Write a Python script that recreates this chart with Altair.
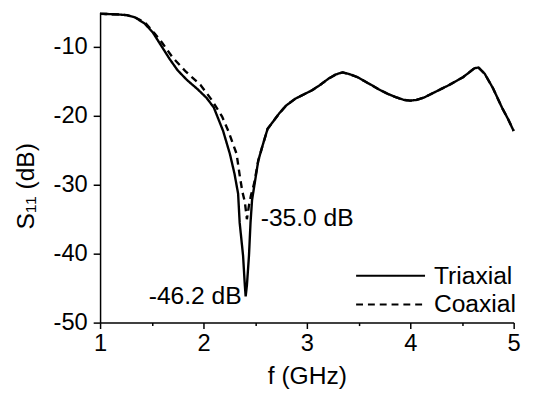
import altair as alt
import pandas as pd

# shared flat start (both cables identical)
f_head = [1.00, 1.10, 1.18, 1.26, 1.335]
v_head = [-5.2, -5.25, -5.3, -5.4, -5.7]

# Triaxial (solid) through the resonance
f_tri_mid = [1.43, 1.51, 1.59, 1.67, 1.75, 1.84, 1.94, 2.03, 2.10, 2.19, 2.255, 2.30,
             2.335, 2.35, 2.383, 2.40, 2.408, 2.42, 2.44, 2.455, 2.47, 2.49]
v_tri_mid = [-6.6, -7.9, -9.8, -11.7, -13.4, -14.8, -16.1, -17.4, -18.8, -22.2, -25.5, -28.4,
             -31.3, -35.5, -40.3, -44.6, -46.2, -44.6, -40.3, -35.5, -32.2, -30.3]

# Coaxial (dashed) through the resonance
f_coax_mid = [1.43, 1.46, 1.53, 1.60, 1.70, 1.83, 1.97, 2.08, 2.18, 2.24, 2.32, 2.35,
              2.376, 2.40, 2.42, 2.44, 2.46, 2.49]
v_coax_mid = [-6.4, -6.9, -8.1, -9.4, -11.5, -13.6, -15.5, -17.7, -20.1, -22.2, -25.5, -28.6,
              -31.0, -32.5, -35.0, -33.0, -31.5, -29.8]

# shared upper band (curves coincide)
f_tail = [2.53, 2.57, 2.62, 2.67, 2.73, 2.80, 2.89, 2.97, 3.05, 3.13, 3.21, 3.28, 3.345,
          3.42, 3.49, 3.56, 3.62, 3.70, 3.78, 3.86, 3.94, 4.00, 4.06, 4.14, 4.22, 4.30,
          4.38, 4.45, 4.51, 4.57, 4.62, 4.66, 4.72, 4.80, 4.89, 4.95, 5.00]
v_tail = [-26.5, -24.4, -21.9, -20.9, -19.7, -18.5, -17.5, -16.9, -16.3, -15.5, -14.6, -14.0, -13.7,
          -14.0, -14.4, -15.0, -15.5, -16.2, -16.8, -17.3, -17.7, -17.8, -17.7, -17.3, -16.7, -16.1,
          -15.5, -14.9, -14.4, -13.7, -13.1, -13.0, -13.9, -16.0, -18.9, -20.6, -22.2]

series_names = ["Triaxial", "Coaxial"]

ann_text = ["-46.2 dB", "-35.0 dB"]
ann_f = [2.408, 2.42]
ann_v = [-46.2, -35.0]

x_ticks = [1, 1.5, 2, 2.5, 3, 3.5, 4, 4.5, 5]
y_ticks = [-50, -45, -40, -35, -30, -25, -20, -15, -10]

f_tri = f_head + f_tri_mid + f_tail
v_tri = v_head + v_tri_mid + v_tail
f_coax = f_head + f_coax_mid + f_tail
v_coax = v_head + v_coax_mid + v_tail

df = pd.concat([
    pd.DataFrame({"f": f_tri, "v": v_tri, "series": series_names[0]}),
    pd.DataFrame({"f": f_coax, "v": v_coax, "series": series_names[1]}),
])
ann = pd.DataFrame({"f": ann_f, "v": ann_v, "label": ann_text})

FONT = "Liberation Sans"

xscale = alt.Scale(domain=[1, 5], nice=False, zero=False)
yscale = alt.Scale(domain=[-50, -5], nice=False, zero=False)

xaxis = alt.Axis(
    values=x_ticks, title="f (GHz)",
    labelExpr="datum.value % 1 === 0 ? toString(datum.value) : ''",
    tickSize={"condition": {"test": "datum.value % 1 === 0", "value": 6}, "value": 3},
    labelPadding=3, labelFlush=False, labelOverlap=False, labelFontSize=24,
    titleFontSize=25, titleY=54, titleBaseline="middle", grid=False,
)
yaxis = alt.Axis(
    values=y_ticks, title="S\u2081\u2081 (dB)",
    labelExpr="datum.value % 10 === 0 ? toString(datum.value) : ''",
    tickSize={"condition": {"test": "datum.value % 10 === 0", "value": 7}, "value": 4},
    labelPadding=6, labelOverlap=False, labelFontSize=24,
    titleFontSize=25, titleX=-76, titleY=176, titleBaseline="middle", grid=False,
)

lines = alt.Chart(df).mark_line(color="black", strokeWidth=2.4).encode(
    x=alt.X("f:Q", scale=xscale, axis=xaxis),
    y=alt.Y("v:Q", scale=yscale, axis=yaxis),
    strokeDash=alt.StrokeDash(
        "series:N",
        scale=alt.Scale(domain=series_names, range=[[1, 0], [7, 5]]),
        legend=alt.Legend(
            title=None, orient="none", legendX=259, legendY=253,
            symbolType="stroke", symbolSize=4900, symbolStrokeWidth=2,
            symbolStrokeColor="black", clipHeight=29, rowPadding=0,
            labelFontSize=25, labelFont=FONT, labelColor="black",
            labelOffset=8, padding=0,
        ),
    ),
    detail="series:N",
)

ann_left = alt.Chart(ann.iloc[[0]]).mark_text(
    align="right", baseline="middle", dx=-4, dy=0, fontSize=25, font=FONT, color="black"
).encode(x=alt.X("f:Q", scale=xscale), y=alt.Y("v:Q", scale=yscale), text="label:N")

ann_right = alt.Chart(ann.iloc[[1]]).mark_text(
    align="left", baseline="middle", dx=14, dy=-1, fontSize=25, font=FONT, color="black"
).encode(x=alt.X("f:Q", scale=xscale), y=alt.Y("v:Q", scale=yscale), text="label:N")

chart = alt.layer(lines, ann_left, ann_right).properties(
    width=420, height=315,
    autosize=alt.AutoSizeParams(type="none"),
    padding={"left": 93.5, "top": 1.5, "right": 11.5, "bottom": 68.5},
).configure_view(stroke=None).configure_axis(
    domainColor="black", domainWidth=1.5, tickColor="black", tickWidth=1.5,
    labelColor="black", titleColor="black", labelFont=FONT, titleFont=FONT,
    titleFontWeight="normal",
)

chart.save("out.html", embed_options={"renderer": "svg", "actions": False})
